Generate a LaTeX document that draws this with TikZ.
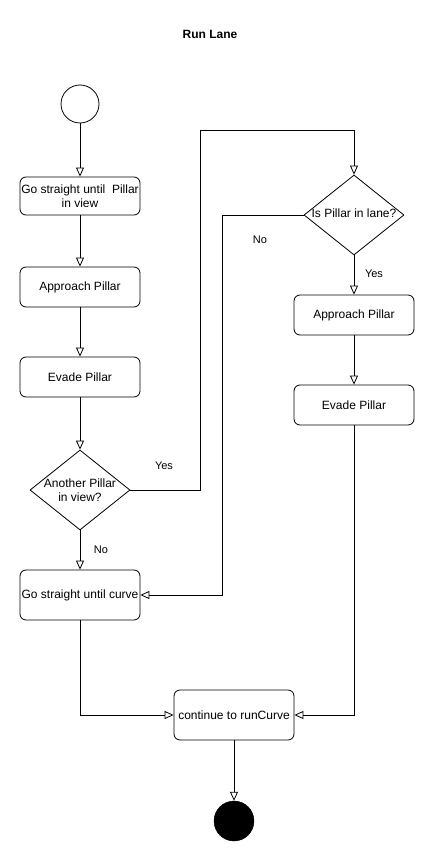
\documentclass[tikz,border=0pt]{standalone}
\usepackage{fontspec}
\setmainfont{Liberation Sans}
\usetikzlibrary{shapes.geometric,arrows.meta}
\begin{document}
\begin{tikzpicture}[x=1pt,y=-1pt,
  every node/.style={font=\fontsize{12}{14}\selectfont},
  box/.style={draw,rounded corners=6pt,minimum width=120pt,inner sep=0pt,align=center,line width=0.8pt},
  dia/.style={draw,diamond,minimum width=100pt,minimum height=80pt,inner sep=0pt,line width=0.8pt},
  conn/.style={line width=0.8pt,-{Triangle[open,length=9pt,width=8pt]}},
  lbl/.style={font=\fontsize{11}{13}\selectfont}]
\useasboundingbox (0,0) rectangle (435,861);
\node[font=\bfseries\fontsize{12}{14}\selectfont] (title) at (210,34) {Run Lane};
\node[draw,circle,minimum size=38pt,inner sep=0pt,line width=0.8pt] (start) at (80,104) {};
\node[box,minimum height=38pt] (b1) at (80,196) {Go straight until~ Pillar\\in view};
\node[box,minimum height=40pt] (b2) at (80,287) {Approach Pillar};
\node[box,minimum height=40pt] (b3) at (80,377) {Evade Pillar};
\node[dia] (d1) at (80,490) {};
\node[align=center] (d1t) at (80,490) {Another Pillar\\in view?};
\node[box,minimum height=50pt] (b4) at (80,595) {Go straight until curve};
\node[box,minimum height=50pt] (b5) at (234,715) {continue to runCurve};
\node[draw,circle,fill=black,minimum size=40pt,inner sep=0pt] (end) at (234,821) {};
\node[dia] (d2) at (354,215) {};
\node (d2t) at (354,213) {Is Pillar in lane?};
\node[box,minimum height=40pt] (b6) at (354,315) {Approach Pillar};
\node[box,minimum height=40pt] (b7) at (354,405) {Evade Pillar};
\coordinate (c1) at (200,490);
\coordinate (c2) at (200,130);
\coordinate (c3) at (222,215);
\coordinate (c4) at (222,595);
\draw[conn] (start) -- (b1);
\draw[conn] (b1) -- (b2);
\draw[conn] (b2) -- (b3);
\draw[conn] (b3) -- (d1);
\draw[conn] (d1) -- (b4);
\draw[conn] (d1.east) -- (c1) -- (c2) -| (d2.north);
\draw[conn] (d2.west) -- (c3) -- (c4) -- (b4.east);
\draw[conn] (d2) -- (b6);
\draw[conn] (b6) -- (b7);
\draw[conn] (b7.south) |- (b5.east);
\draw[conn] (b4.south) |- (b5.west);
\draw[conn] (b5) -- (end);
\node[lbl] (l1) at (164,466) {Yes};
\node[lbl] (l2) at (101,550) {No};
\node[lbl] (l3) at (260,240) {No};
\node[lbl] (l4) at (374,274) {Yes};
\end{tikzpicture}
\end{document}
